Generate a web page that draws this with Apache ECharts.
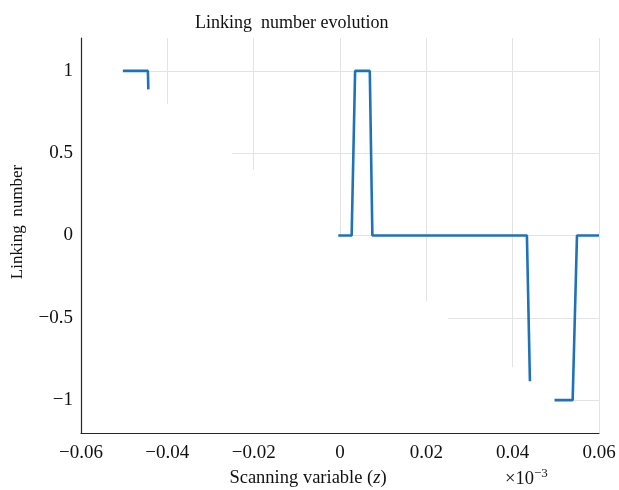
<!DOCTYPE html>
<html>
<head>
<meta charset="utf-8">
<script src="https://cdn.jsdelivr.net/npm/echarts@6/dist/echarts.min.js"></script>
<style>html,body{margin:0;padding:0;background:#fff;}#c{width:619px;height:490px;}</style>
</head>
<body>
<div id="c"></div>
<script>
// ---- data ----
var segX1 = [-0.0503, -0.0445, -0.0444];
var segY1 = [1, 1, 0.888];
var segX2 = [-0.0004, 0.0027, 0.0035, 0.0069, 0.0075, 0.0433, 0.0440];
var segY2 = [0, 0, 1, 1, 0, 0, -0.886];
var segX3 = [0.0497, 0.0539, 0.0549, 0.0600];
var segY3 = [-1, -1, 0, 0];
var xTicks = [-0.06, -0.04, -0.02, 0, 0.02, 0.04, 0.06];
var yTicks = [-1, -0.5, 0, 0.5, 1];
var xMin = -0.06, xMax = 0.06, yMin = -1.2, yMax = 1.2;

var FONT = 'Liberation Serif';
function pairs(xs, ys) { return xs.map(function (x, i) { return [x, ys[i]]; }); }
var lineData = pairs(segX1, segY1).concat([[null, null]], pairs(segX2, segY2), [[null, null]], pairs(segX3, segY3));

// partial grid (visible only above the diagonal from top-left to bottom-right)
function yDiag(x) { return yMax - (x - xMin) / (xMax - xMin) * (yMax - yMin); }
function xDiag(y) { return xMin + (yMax - y) / (yMax - yMin) * (xMax - xMin); }
var gridLines = [];
xTicks.forEach(function (x) { if (x > xMin) gridLines.push([{ coord: [x, yMax] }, { coord: [x, yDiag(x)] }]); });
yTicks.forEach(function (y) { gridLines.push([{ coord: [xDiag(y), y] }, { coord: [xMax, y] }]); });

function fmt(v) {
  var n = parseFloat(Number(v).toFixed(6));
  if (n === 0) return '0';
  return String(n).replace('-', '\u2212');
}

var chart = echarts.init(document.getElementById('c'), null, { renderer: 'canvas' });
chart.setOption({
  animation: false,
  backgroundColor: '#fff',
  title: {
    text: 'Linking  number evolution', left: 190, top: 9,
    textStyle: { fontFamily: FONT, fontWeight: 'normal', fontSize: 18, color: '#111' }
  },
  grid: { left: 81, right: 20, top: 38, bottom: 57 },
  xAxis: {
    type: 'value', min: xMin, max: xMax, interval: 0.02,
    axisLine: { show: true, onZero: false, lineStyle: { color: '#262626', width: 1.2 } },
    axisTick: { show: false },
    splitLine: { show: false },
    axisLabel: { margin: 11, fontFamily: FONT, fontSize: 19, color: '#111', formatter: fmt }
  },
  yAxis: {
    type: 'value', min: yMin, max: yMax,
    axisLine: { show: true, onZero: false, lineStyle: { color: '#262626', width: 1.2 } },
    axisTick: { show: false },
    splitLine: { show: false },
    axisLabel: { margin: 8, fontFamily: FONT, fontSize: 19, color: '#111', formatter: fmt, customValues: yTicks }
  },
  graphic: [
    {
      type: 'text', x: 18, y: 222, rotation: Math.PI / 2,
      style: { text: 'Linking  number', font: '17px "Liberation Serif"', fill: '#111', align: 'center', verticalAlign: 'middle' }
    },
    {
      type: 'text', x: 308, y: 478,
      style: {
        text: '{n|Scanning variable (}{i|z}{n|)}', align: 'center', verticalAlign: 'middle',
        rich: {
          n: { fontFamily: FONT, fontSize: 18.5, fill: '#111' },
          i: { fontFamily: FONT, fontSize: 18.5, fontStyle: 'italic', fill: '#111' }
        }
      }
    },
    {
      type: 'text', x: 505, y: 479,
      style: {
        text: '{n|\u00d710}{s|\u22123}', align: 'left', verticalAlign: 'middle',
        rich: {
          n: { fontFamily: FONT, fontSize: 18.5, fill: '#111' },
          s: { fontFamily: FONT, fontSize: 13, fill: '#111', verticalAlign: 'top', padding: [0, 0, 10, 0] }
        }
      }
    }
  ],
  series: [
    {
      type: 'line', data: [], silent: true, z: 1,
      markLine: {
        silent: true, symbol: 'none', animation: false, z: 1,
        label: { show: false },
        lineStyle: { color: '#e3e3e3', width: 1, type: 'solid' },
        emphasis: { disabled: true },
        data: gridLines
      }
    },
    {
      type: 'line', data: lineData, z: 10, showSymbol: false, connectNulls: false,
      lineStyle: { color: '#1f72b8', width: 2.6 },
      itemStyle: { color: '#1f72b8' }
    }
  ]
});
</script>
</body>
</html>
